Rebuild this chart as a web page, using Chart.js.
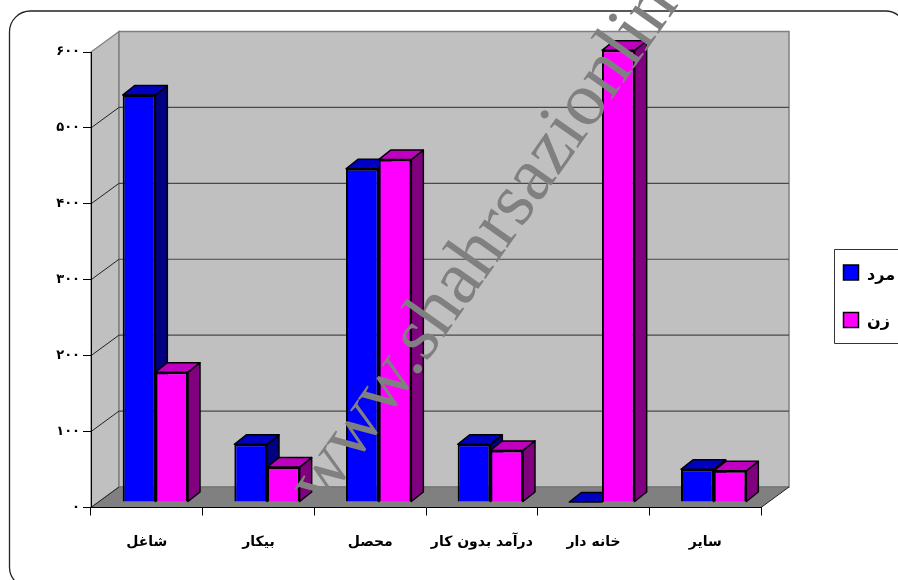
<!DOCTYPE html>
<html lang="fa">
<head>
<meta charset="utf-8">
<style>html,body{margin:0;padding:0;background:#fff;overflow:hidden}canvas{display:block}</style>
<script src="https://cdn.jsdelivr.net/npm/chart.js@4"></script>
</head>
<body>
<canvas id="c" width="898" height="580"></canvas>
<script>
const categories = ['شاغل', 'بیکار', 'محصل', 'درآمد بدون کار', 'خانه دار', 'سایر'];
const menLabel = 'مرد';
const womenLabel = 'زن';
const men = [536, 76, 439, 76, 0, 43];
const women = [171, 46, 451, 68, 595, 41];
const tickLabels = {0:'۰',100:'۱۰۰',200:'۲۰۰',300:'۳۰۰',400:'۴۰۰',500:'۵۰۰',600:'۶۰۰'};
const watermark = 'www.shahrsazionline.com';

const FONT = '"DejaVu Sans", sans-serif';
const WALL = {dx: 28, dy: -20.5};
const BAR = {dx: 8.5, dy: -5.5, sx: 12, sy: -9.5};

function poly(ctx, pts, fill, stroke, lw) {
  ctx.beginPath();
  pts.forEach((p, i) => i ? ctx.lineTo(p[0], p[1]) : ctx.moveTo(p[0], p[1]));
  ctx.closePath();
  if (fill) { ctx.fillStyle = fill; ctx.fill(); }
  if (stroke) { ctx.strokeStyle = stroke; ctx.lineWidth = lw || 1; ctx.stroke(); }
}

const scene3d = {
  id: 'scene3d',
  beforeDraw(chart) {
    const {ctx, chartArea: a, scales: {y}} = chart;
    const L = a.left, R = a.right, T = a.top, B = a.bottom;
    const dx = WALL.dx, dy = WALL.dy;
    ctx.save();
    poly(ctx, [[L, B], [L + dx, B + dy], [L + dx, T + dy], [L, T]], '#c0c0c0', '#808080', 1.3);
    poly(ctx, [[L + dx, B + dy], [R + dx, B + dy], [R + dx, T + dy], [L + dx, T + dy]], '#c0c0c0', '#808080', 1.5);
    poly(ctx, [[L, B], [R, B], [R + dx, B + dy], [L + dx, B + dy]], '#808080', null);
    ctx.strokeStyle = '#707070'; ctx.lineWidth = 1;
    ctx.beginPath(); ctx.moveTo(L + dx, B + dy); ctx.lineTo(R + dx, B + dy); ctx.stroke();
    y.ticks.forEach(t => {
      if (t.value === 0 || t.value === 600) return;
      const py = y.getPixelForValue(t.value);
      ctx.strokeStyle = '#222'; ctx.lineWidth = 1;
      ctx.beginPath(); ctx.moveTo(L, py); ctx.lineTo(L + dx, py + dy); ctx.stroke();
      ctx.strokeStyle = '#484848'; ctx.lineWidth = 1.2;
      ctx.beginPath(); ctx.moveTo(L + dx, py + dy); ctx.lineTo(R + dx, py + dy); ctx.stroke();
    });
    ctx.strokeStyle = '#222'; ctx.lineWidth = 1;
    ctx.beginPath(); ctx.moveTo(L, B); ctx.lineTo(L + dx, B + dy); ctx.stroke();
    ctx.beginPath(); ctx.moveTo(R, B); ctx.lineTo(R + dx, B + dy); ctx.stroke();
    ctx.restore();
  },
  // Chart.js paints datasets last-to-first; the nearer (right-hand) series must paint last here.
  beforeDatasetDraw() {
    return false;
  },
  afterDatasetsDraw(chart) {
    const {ctx} = chart;
    chart.data.datasets.forEach((ds, i) => {
      const meta = chart.getDatasetMeta(i);
      ctx.save();
      ctx.translate(BAR.dx, BAR.dy);
      meta.data.forEach(el => {
        const l = el.x - el.width / 2, r = el.x + el.width / 2, t = el.y, b = el.base;
        const sx = BAR.sx, sy = BAR.sy;
        ctx.lineJoin = 'round';
        if (b - t > 0.5) poly(ctx, [[r, t], [r + sx, t + sy], [r + sx, b + sy], [r, b]], ds.sideColor, '#000', 1.5);
        poly(ctx, [[l, t], [l + sx, t + sy], [r + sx, t + sy], [r, t]], ds.topColor, '#000', 1.5);
      });
      meta.controller.draw();
      ctx.restore();
    });
  },
  afterDraw(chart) {
    const {ctx} = chart;
    ctx.save();
    // outer frame
    ctx.strokeStyle = '#222'; ctx.lineWidth = 1.3;
    ctx.beginPath();
    ctx.roundRect(9.5, 11, 897, 577, 21);
    ctx.stroke();
    // legend
    ctx.fillStyle = '#fff'; ctx.strokeStyle = '#333'; ctx.lineWidth = 1;
    ctx.beginPath(); ctx.rect(834.5, 249.5, 80, 94); ctx.fill(); ctx.stroke();
    const rows = [[265, 276], [312.5, 322]];
    chart.data.datasets.forEach((ds, i) => {
      ctx.fillStyle = ds.backgroundColor; ctx.strokeStyle = '#000'; ctx.lineWidth = 1.5;
      ctx.fillRect(843.5, rows[i][0], 15, 15); ctx.strokeRect(843.5, rows[i][0], 15, 15);
      ctx.fillStyle = '#000'; ctx.font = 'bold 16px ' + FONT;
      ctx.textAlign = 'left'; ctx.textBaseline = 'middle';
      ctx.fillText(ds.label, 867, rows[i][1]);
    });
    // watermark
    ctx.translate(323, 509);
    ctx.rotate(-54.8 * Math.PI / 180);
    ctx.fillStyle = '#808080';
    ctx.font = '76px "Liberation Serif", serif';
    ctx.textAlign = 'left'; ctx.textBaseline = 'alphabetic';
    ctx.direction = 'ltr';
    ctx.fillText(watermark, 0, 0);
    ctx.restore();
  }
};

new Chart(document.getElementById('c'), {
  type: 'bar',
  data: {
    labels: categories,
    datasets: [
      {label: menLabel, data: men, backgroundColor: '#0000ff', sideColor: '#000080', topColor: '#0000c0',
       borderColor: '#000', borderWidth: 2, barPercentage: 1, categoryPercentage: 0.585},
      {label: womenLabel, data: women, backgroundColor: '#ff00ff', sideColor: '#800080', topColor: '#c000c0',
       borderColor: '#000', borderWidth: 2, barPercentage: 1, categoryPercentage: 0.585}
    ]
  },
  plugins: [scene3d],
  options: {
    responsive: false,
    animation: false,
    devicePixelRatio: 1,
    layout: {padding: {top: 52, right: 137, left: 0, bottom: 0}},
    plugins: {legend: {display: false}, tooltip: {enabled: false}, title: {display: false}},
    scales: {
      x: {
        afterFit(s) { s.height = 72.5; },
        grid: {drawOnChartArea: false, drawTicks: true, tickLength: 8, color: '#000'},
        border: {color: '#000', width: 1},
        ticks: {color: '#000', font: {family: FONT, weight: 'bold', size: 14}, padding: 18, maxRotation: 0, autoSkip: false}
      },
      y: {
        min: 0, max: 600,
        afterFit(s) { s.width = 91; },
        grid: {drawOnChartArea: false, drawTicks: true, tickLength: 8, color: '#000'},
        border: {color: '#000', width: 1},
        ticks: {stepSize: 100, color: '#000', font: {family: FONT, weight: 'bold', size: 13}, padding: 3,
                callback: v => tickLabels[v]}
      }
    }
  }
});
</script>
</body>
</html>
